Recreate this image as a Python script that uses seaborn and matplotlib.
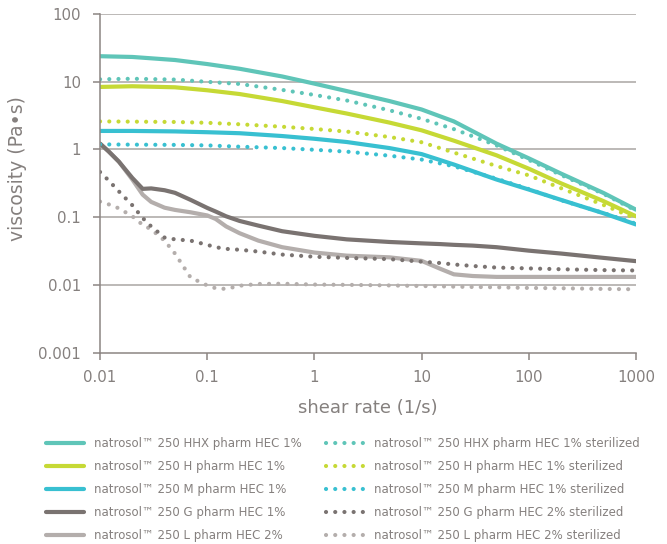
import numpy as np
import pandas as pd
import matplotlib
matplotlib.use("Agg")
import matplotlib.pyplot as plt
from matplotlib.lines import Line2D
import seaborn as sns

# shear rate grids (1/s)
shear_hi = [0.01, 0.02, 0.05, 0.1, 0.2, 0.5, 1, 2, 5, 10, 20, 50, 100, 200, 500, 1000]
shear_lo = [0.01, 0.012, 0.015, 0.02, 0.025, 0.03, 0.04, 0.05, 0.07, 0.1, 0.12, 0.15,
            0.2, 0.3, 0.5, 1, 2, 5, 10, 15, 20, 30, 50, 100, 200, 500, 1000]

# viscosity (Pa.s)
hhx = [23.9, 23.3, 21.0, 18.3, 15.6, 12.0, 9.4, 7.3, 5.2, 3.9, 2.6, 1.22, 0.74, 0.44, 0.227, 0.129]
hhx_st = [10.9, 11.1, 10.8, 10.0, 9.3, 7.6, 6.4, 5.3, 3.8, 2.84, 2.0, 1.15, 0.7, 0.42, 0.22, 0.125]
h = [8.4, 8.6, 8.3, 7.5, 6.6, 5.2, 4.2, 3.4, 2.5, 1.92, 1.35, 0.82, 0.52, 0.316, 0.172, 0.103]
h_st = [2.6, 2.58, 2.55, 2.48, 2.36, 2.17, 2.01, 1.84, 1.53, 1.28, 0.9, 0.57, 0.415, 0.268, 0.151, 0.095]
m = [1.88, 1.88, 1.85, 1.8, 1.74, 1.58, 1.44, 1.29, 1.05, 0.855, 0.6, 0.36, 0.256, 0.18, 0.114, 0.078]
m_st = [1.19, 1.18, 1.17, 1.15, 1.1, 1.05, 0.99, 0.93, 0.81, 0.71, 0.565, 0.37, 0.26, 0.178, 0.115, 0.08]

g = [1.22, 0.94, 0.66, 0.38, 0.262, 0.266, 0.25, 0.229, 0.18, 0.137, 0.121, 0.103,
     0.088, 0.075, 0.062, 0.053, 0.047, 0.043, 0.041, 0.040, 0.039, 0.038, 0.036,
     0.032, 0.029, 0.025, 0.0224]
g_st = [0.465, 0.35, 0.24, 0.15, 0.097, 0.073, 0.05, 0.047, 0.045, 0.039, 0.036, 0.034,
        0.033, 0.031, 0.028, 0.026, 0.025, 0.024, 0.022, 0.021, 0.020, 0.019, 0.018,
        0.0175, 0.017, 0.0165, 0.0163]
l = [1.22, 0.94, 0.66, 0.36, 0.215, 0.168, 0.138, 0.128, 0.118, 0.106, 0.094, 0.073,
     0.058, 0.045, 0.036, 0.030, 0.027, 0.0255, 0.0226, 0.0172, 0.0143, 0.0135, 0.0131,
     0.0131, 0.0131, 0.0131, 0.0131]
l_st = [0.17, 0.155, 0.135, 0.103, 0.077, 0.066, 0.045, 0.029, 0.0128, 0.0098, 0.0089,
        0.0087, 0.0097, 0.0103, 0.0104, 0.0101, 0.0100, 0.0098, 0.0096, 0.0095, 0.0094,
        0.0093, 0.0092, 0.0090, 0.0089, 0.0087, 0.0086]

grades = ["HHX", "H", "M", "G", "L"]
labels = ["natrosol\u2122 250 HHX pharm HEC 1%",
          "natrosol\u2122 250 H pharm HEC 1%",
          "natrosol\u2122 250 M pharm HEC 1%",
          "natrosol\u2122 250 G pharm HEC 1%",
          "natrosol\u2122 250 L pharm HEC 2%"]
labels_st = ["natrosol\u2122 250 HHX pharm HEC 1% sterilized",
             "natrosol\u2122 250 H pharm HEC 1% sterilized",
             "natrosol\u2122 250 M pharm HEC 1% sterilized",
             "natrosol\u2122 250 G pharm HEC 2% sterilized",
             "natrosol\u2122 250 L pharm HEC 2% sterilized"]
colors = ["#5fc5b8", "#c6d935", "#38c0d1", "#7a7371", "#b4aeac"]

ticks = [0.001, 0.01, 0.1, 1, 10, 100]
tick_labels = ["0.001", "0.01", "0.1", "1", "10", "100"]
xticks = [0.01, 0.1, 1, 10, 100, 1000]
xtick_labels = ["0.01", "0.1", "1", "10", "100", "1000"]
# the gridline at 1 is broken in the original between these shear rates
grid_gap = (0.27, 17)

sns.set_theme(style="white")
plt.rcParams["font.family"] = ["DejaVu Sans"]
text_col = "#85807e"
grid_col = "#aaa5a3"

series = {
    "HHX": (shear_hi, hhx, hhx_st),
    "H": (shear_hi, h, h_st),
    "M": (shear_hi, m, m_st),
    "G": (shear_lo, g, g_st),
    "L": (shear_lo, l, l_st),
}

fig = plt.figure(figsize=(6.67, 5.44), dpi=100)
ax = fig.add_axes([0.15, 0.352, 0.8035, 0.622])

lw = 3.0
dots = (0, (0.01, 2.2))

# solid curves, light gray first so dark gray sits on top
for key in ["L", "G", "M", "H", "HHX"]:
    x, y, _ = series[key]
    c = colors[grades.index(key)]
    sns.lineplot(x=x, y=y, ax=ax, color=c, lw=lw, solid_capstyle="round",
                 estimator=None, sort=False)
for key in ["L", "G", "M", "H", "HHX"]:
    x, _, y = series[key]
    c = colors[grades.index(key)]
    sns.lineplot(x=x, y=y, ax=ax, color=c, lw=lw, linestyle=dots,
                 dash_capstyle="round", estimator=None, sort=False)

ax.set_xscale("log")
ax.set_yscale("log")
ax.set_xlim(0.01, 1000)
ax.set_ylim(0.001, 100)
ax.set_yticks(ticks, tick_labels)
ax.set_xticks(xticks, xtick_labels)
ax.minorticks_off()

for t in ticks[1:]:
    if t == 1:
        ax.hlines(t, 0.01, grid_gap[0], color=grid_col, lw=1.1, zorder=0.5)
        ax.hlines(t, grid_gap[1], 1000, color=grid_col, lw=1.1, zorder=0.5)
    else:
        ax.axhline(t, color=grid_col, lw=1.1, zorder=0.5)

for s in ["top", "right"]:
    ax.spines[s].set_visible(False)
for s in ["left", "bottom"]:
    ax.spines[s].set_color("#8c8583")
    ax.spines[s].set_linewidth(1.1)

ax.tick_params(axis="both", which="major", direction="out", length=4.8, width=1.1,
               color="#8c8583", labelcolor=text_col, labelsize=10.8,
               left=True, bottom=True)
ax.tick_params(axis="y", pad=9)
ax.tick_params(axis="x", pad=8)
ax.set_xlabel("shear rate (1/s)", fontsize=13, color=text_col, labelpad=10)
ax.set_ylabel("viscosity (Pa\u2022s)", fontsize=13.5, color=text_col)
ax.yaxis.set_label_coords(-0.136, 0.545)

solid_h = [Line2D([], [], color=c, lw=lw, solid_capstyle="round") for c in colors]
dot_h = [Line2D([], [], color=c, lw=lw, linestyle=dots, dash_capstyle="round")
         for c in colors]
leg_kw = dict(loc="upper left", frameon=False, fontsize=8.5, borderpad=0,
              handlelength=3.2, handletextpad=0.9, labelspacing=0.85,
              labelcolor=text_col)
fig.legend(solid_h, labels, bbox_to_anchor=(40 / 667, 1 - 431 / 544), **leg_kw)
fig.legend(dot_h, labels_st, bbox_to_anchor=(320 / 667, 1 - 431 / 544), **leg_kw)

fig.savefig("out.png", dpi=100)
